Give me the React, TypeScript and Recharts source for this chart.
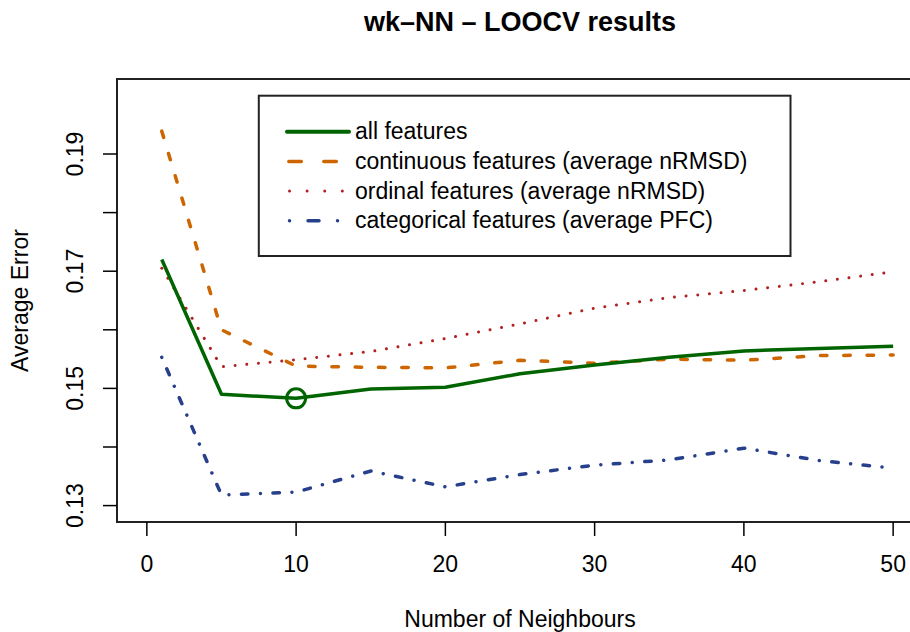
import { LineChart, Line, XAxis, YAxis, ReferenceArea, ReferenceDot, Label } from 'recharts'

const FONT = '"Liberation Sans", Arial, Helvetica, sans-serif'

// number of neighbours k evaluated in the leave-one-out runs
const neighbours = [1, 5, 10, 15, 20, 25, 30, 35, 40, 45, 50]

// average error per feature group
const allFeatures = [0.172, 0.149, 0.1483, 0.1499, 0.1502, 0.1525, 0.154, 0.1553, 0.1564, 0.1568, 0.1572]
const continuousFeatures = [0.1939, 0.16, 0.1538, 0.1536, 0.1535, 0.1548, 0.1543, 0.155, 0.1548, 0.1556, 0.1557]
const ordinalFeatures = [0.1705, 0.1537, 0.1549, 0.1563, 0.1585, 0.161, 0.1637, 0.1655, 0.1667, 0.1682, 0.1699]
const categoricalFeatures = [0.1553, 0.1318, 0.1323, 0.1359, 0.1332, 0.1353, 0.1369, 0.1378, 0.1398, 0.1377, 0.1364]

const xTicks = [0, 10, 20, 30, 40, 50]
const yTicks = [0.13, 0.14, 0.15, 0.16, 0.17, 0.18, 0.19]
const yLabelled = [0.13, 0.15, 0.17, 0.19]

const bestK = 10
const bestError = allFeatures[neighbours.indexOf(bestK)]

const data = neighbours.map((k, i) => ({
  k,
  all: allFeatures[i],
  continuous: continuousFeatures[i],
  ordinal: ordinalFeatures[i],
  categorical: categoricalFeatures[i]
}))

const GREEN = '#006400'
const ORANGE = '#CD6600'
const RED = '#B22222'
const BLUE = '#27408B'

const legendItems = [
  { label: 'all features', color: GREEN, dash: undefined, width: 4, x1: 287, x2: 349 },
  { label: 'continuous features (average nRMSD)', color: ORANGE, dash: '12.5 22.5', width: 3.5, x1: 288.8, x2: 349 },
  { label: 'ordinal features (average nRMSD)', color: RED, dash: '0.01 17.6', width: 3, x1: 289.5, x2: 349 },
  { label: 'categorical features (average PFC)', color: BLUE, dash: '0.01 18.5 11 18.5', width: 3.5, x1: 289.5, x2: 349 }
]

const XTick = (props: any) => {
  const { x, y, payload } = props
  return (
    <text x={x} y={y + 36} textAnchor="middle" fontSize={23} fontFamily={FONT} fill="#000">
      {payload.value}
    </text>
  )
}

const YTick = (props: any) => {
  const { x, y, payload } = props
  if (!yLabelled.some((v) => Math.abs(v - payload.value) < 1e-9)) return <g />
  const tx = x - 20
  return (
    <text
      x={tx}
      y={y}
      transform={`rotate(-90 ${tx} ${y})`}
      textAnchor="middle"
      fontSize={23}
      fontFamily={FONT}
      fill="#000"
    >
      {payload.value.toFixed(2)}
    </text>
  )
}

function LegendBox() {
  return (
    <svg
      width={540}
      height={170}
      style={{ position: 'absolute', left: 250, top: 88, overflow: 'visible' }}
    >
      <rect x={8.8} y={7.7} width={531.7} height={160.3} fill="#fff" stroke="#222" strokeWidth={2} />
      {legendItems.map((item, i) => {
        const cy = 131.7 - 88 + i * 29.7
        return (
          <g key={item.label}>
            <line
              x1={item.x1 - 250}
              x2={item.x2 - 250}
              y1={cy}
              y2={cy}
              stroke={item.color}
              strokeWidth={item.width}
              strokeDasharray={item.dash}
              strokeLinecap="round"
            />
            <text x={355 - 250} y={cy + 7.5} fontSize={23} fontFamily={FONT} fill="#000">
              {item.label}
            </text>
          </g>
        )
      })}
    </svg>
  )
}

export default function App() {
  return (
    <div
      style={{
        position: 'absolute',
        left: 0,
        top: 0,
        width: 910,
        height: 632,
        overflow: 'hidden',
        background: '#fff',
        fontFamily: FONT
      }}
    >
      <div
        style={{
          position: 'absolute',
          left: 0,
          width: 1040,
          top: 6,
          textAlign: 'center',
          fontSize: 27,
          fontWeight: 'bold',
          lineHeight: '32px',
          color: '#000'
        }}
      >
        wk–NN – LOOCV results
      </div>
      <LineChart
        width={930}
        height={632}
        data={data}
        margin={{ top: 79, right: 7, bottom: 50, left: 57 }}
      >
        <XAxis
          dataKey="k"
          type="number"
          domain={[-2, 52]}
          ticks={xTicks}
          interval={0}
          allowDataOverflow
          axisLine={false}
          tickSize={14}
          tickMargin={0}
          tickLine={{ stroke: '#000', strokeWidth: 1.5 }}
          tick={<XTick />}
          height={60}
        >
          <Label
            content={() => (
              <text x={520} y={627} textAnchor="middle" fontSize={23} fontFamily={FONT} fill="#000">
                Number of Neighbours
              </text>
            )}
          />
        </XAxis>
        <YAxis
          type="number"
          domain={[0.1272, 0.2028]}
          ticks={yTicks}
          interval={0}
          allowDataOverflow
          axisLine={false}
          tickSize={14}
          tickMargin={0}
          tickLine={{ stroke: '#000', strokeWidth: 1.5 }}
          tick={<YTick />}
          width={60}
        >
          <Label
            content={() => (
              <text
                x={28}
                y={300.5}
                transform="rotate(-90 28 300.5)"
                textAnchor="middle"
                fontSize={23}
                fontFamily={FONT}
                fill="#000"
              >
                Average Error
              </text>
            )}
          />
        </YAxis>
        <ReferenceArea
          x1={-2}
          x2={52}
          y1={0.1272}
          y2={0.2028}
          fill="none"
          stroke="#222"
          strokeWidth={2}
          ifOverflow="visible"
        />
        <Line
          dataKey="continuous"
          type="linear"
          stroke={ORANGE}
          strokeWidth={3.5}
          strokeDasharray="6.5 16.8"
          strokeLinecap="round"
          dot={false}
          activeDot={false}
          isAnimationActive={false}
        />
        <Line
          dataKey="ordinal"
          type="linear"
          stroke={RED}
          strokeWidth={3}
          strokeDasharray="0.01 11.7"
          strokeLinecap="round"
          dot={false}
          activeDot={false}
          isAnimationActive={false}
        />
        <Line
          dataKey="categorical"
          type="linear"
          stroke={BLUE}
          strokeWidth={3.5}
          strokeDasharray="0.01 12.5 6.5 12.5"
          strokeLinecap="round"
          dot={false}
          activeDot={false}
          isAnimationActive={false}
        />
        <Line
          dataKey="all"
          type="linear"
          stroke={GREEN}
          strokeWidth={3.5}
          strokeLinejoin="round"
          dot={false}
          activeDot={false}
          isAnimationActive={false}
        />
        <ReferenceDot
          x={bestK}
          y={bestError}
          r={9.5}
          fill="none"
          stroke={GREEN}
          strokeWidth={3}
          ifOverflow="visible"
        />
      </LineChart>
      <LegendBox />
    </div>
  )
}
